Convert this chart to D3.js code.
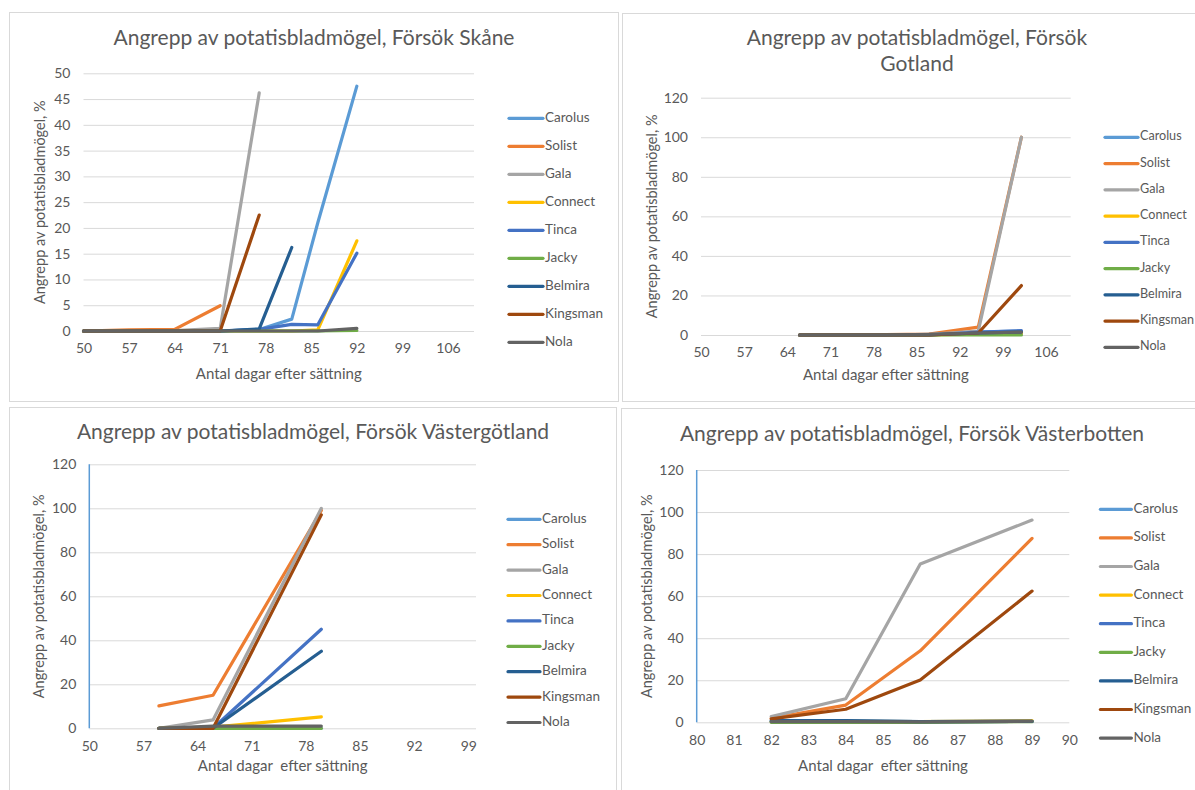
<!DOCTYPE html>
<html>
<head>
<meta charset="utf-8">
<script src="https://cdn.jsdelivr.net/npm/d3@7"></script>
<style>
  body { margin: 0; background: #fff; }
  svg { display: block; font-family: Lato, "Open Sans", sans-serif; }
</style>
</head>
<body>
<svg id="chart" width="1195" height="790"></svg>
<script>
// sorter, same order in every panel
const varieties = ["Carolus", "Solist", "Gala", "Connect", "Tinca", "Jacky", "Belmira", "Kingsman", "Nola"];
const varietyColors = ["#5B9BD5", "#ED7D31", "#A5A5A5", "#FFC000", "#4472C4", "#70AD47", "#255E91", "#9E480E", "#636363"];

// Skåne
const skaneDays = [50, 57, 64, 71, 77, 82, 86, 92];
const skaneValues = [
  [0, 0, 0, 0, 0.3, 2.3, 21, 47.5],
  [0, 0.2, 0.3, 4.9, null, null, null, null],
  [0, 0, 0.1, 0.5, 46.2, null, null, null],
  [0, 0, 0, 0, 0, 0, 0.2, 17.5],
  [0, 0, 0, 0, 0.3, 1.3, 1.2, 15.1],
  [0, 0, 0, 0, 0, 0, 0, 0.1],
  [0, 0, 0, 0, 0.4, 16.2, null, null],
  [0, 0, 0, 0, 22.5, null, null, null],
  [0, 0, 0, 0, 0, 0, 0, 0.5]
];

// Gotland
const gotlandDays = [66, 73, 80, 87, 95, 102];
const gotlandValues = [
  [0, 0, 0, 0, 1.5, 2],
  [0, 0, 0.2, 0.5, 4, 100],
  [0, 0, 0, 0.3, 2, 100],
  [0, 0, 0, 0, 0.5, 0.8],
  [0, 0, 0, 0, 1.5, 2.2],
  [0, 0, 0, 0, 0, 0],
  [0, 0, 0, 0, 1, 1.5],
  [0, 0, 0, 0, 1, 25],
  [0, 0, 0, 0.3, 1, 1.5]
];

// Västergötland
const vgDays = [59, 66, 80];
const vgValues = [
  [0, 0, 0],
  [10.2, 15, 99],
  [0, 3.8, 100],
  [0, 0.5, 5.2],
  [0, 0, 45],
  [0, 0, 0],
  [0, 0, 35],
  [0, 0, 97],
  [0, 1, 1]
];

// Västerbotten
const vbDays = [82, 84, 86, 89];
const vbValues = [
  [0.5, 0.5, 0.3, 0.5],
  [1.9, 8.2, 34, 87.5],
  [2.7, 11.2, 75.3, 96.2],
  [0.3, 0.5, 0.3, 0.8],
  [0.5, 0.5, 0.3, 0.5],
  [0, 0, 0, 0.3],
  [0.8, 0.8, 0.3, 0.5],
  [1.6, 6.2, 20.1, 62.4],
  [0.3, 0.3, 0.2, 0.5]
];

const weekTicks = [50, 57, 64, 71, 78, 85, 92, 99];
const weekTicksLong = [50, 57, 64, 71, 78, 85, 92, 99, 106];
const dayTicks = [80, 81, 82, 83, 84, 85, 86, 87, 88, 89, 90];
const yTicks50 = [0, 5, 10, 15, 20, 25, 30, 35, 40, 45, 50];
const yTicks120 = [0, 20, 40, 60, 80, 100, 120];

const yTitle = "Angrepp av potatisbladmögel, %";

const panels = [
  {
    title: ["Angrepp av potatisbladmögel, Försök Skåne"], titleX: 314, titleY: 40,
    box: [9, 12, 618, 401],
    days: skaneDays, values: skaneValues,
    xDomain: [50, 110], yDomain: [0, 50], xTicks: weekTicksLong, yTicks: yTicks50,
    left: 83.5, right: 474, bottom: 331, top: 73.3,
    xTitle: "Antal dagar efter sättning", xTitleY: 375, yTitleX: 41.7,
    legend: { x: 509, len: 34, y: 118.3, step: 28, size: 13.5 }, axisLine: false
  },
  {
    title: ["Angrepp av potatisbladmögel, Försök", "Gotland"], titleX: 917, titleY: 40,
    box: [622, 13, 1200, 401],
    days: gotlandDays, values: gotlandValues,
    xDomain: [50, 110], yDomain: [0, 120], xTicks: weekTicksLong, yTicks: yTicks120,
    left: 701, right: 1070.7, bottom: 335, top: 97.7,
    xTitle: "Antal dagar efter sättning", xTitleY: 376, yTitleX: 653,
    legend: { x: 1105, len: 33, y: 137.3, step: 26.25, size: 12.6 }, axisLine: false
  },
  {
    title: ["Angrepp av potatisbladmögel, Försök Västergötland"], titleX: 313, titleY: 434,
    box: [9, 407, 616, 800],
    days: vgDays, values: vgValues,
    xDomain: [50, 100], yDomain: [0, 120], xTicks: weekTicks, yTicks: yTicks120,
    left: 89.3, right: 476, bottom: 728.3, top: 464.3,
    xTitle: "Antal dagar  efter sättning", xTitleY: 767.7, yTitleX: 40.7,
    legend: { x: 508, len: 32, y: 519.3, step: 25.4, size: 13.5 }, axisLine: true
  },
  {
    title: ["Angrepp av potatisbladmögel, Försök Västerbotten"], titleX: 912, titleY: 436,
    box: [621, 408, 1200, 800],
    days: vbDays, values: vbValues,
    xDomain: [80, 90], yDomain: [0, 120], xTicks: dayTicks, yTicks: yTicks120,
    left: 696.7, right: 1069.3, bottom: 722.3, top: 470,
    xTitle: "Antal dagar  efter sättning", xTitleY: 767.3, yTitleX: 648.3,
    legend: { x: 1100.4, len: 31, y: 509.3, step: 28.6, size: 13.5 }, axisLine: true
  }
];

const svg = d3.select("#chart");
const textColor = "#595959";

panels.forEach(drawPanel);

function drawPanel(p) {
  const g = svg.append("g");

  g.append("rect")
    .attr("x", p.box[0] + 0.5).attr("y", p.box[1] + 0.5)
    .attr("width", p.box[2] - p.box[0]).attr("height", p.box[3] - p.box[1])
    .attr("fill", "#fff").attr("stroke", "#D9D9D9");

  const x = d3.scaleLinear().domain(p.xDomain).range([p.left, p.right]);
  const y = d3.scaleLinear().domain(p.yDomain).range([p.bottom, p.top]);

  // title
  const t = g.append("text")
    .attr("x", p.titleX).attr("y", p.titleY)
    .attr("text-anchor", "middle").attr("dominant-baseline", "middle")
    .attr("fill", textColor).style("font-size", "21px");
  p.title.forEach((line, i) => {
    t.append("tspan").attr("x", p.titleX).attr("dy", i === 0 ? 0 : 25.7).text(line);
  });

  // y axis + grid
  const yAxis = g.append("g")
    .attr("transform", `translate(${p.left},0)`)
    .call(d3.axisLeft(y).tickValues(p.yTicks).tickSize(-(p.right - p.left)).tickPadding(13));
  yAxis.select(".domain").remove();
  yAxis.selectAll(".tick line").attr("stroke", "#D9D9D9").attr("stroke-width", 1);
  yAxis.selectAll(".tick text").attr("fill", textColor)
    .style("font-size", "14px").style("font-family", "Lato, sans-serif");

  // x axis labels
  const xAxis = g.append("g")
    .attr("transform", `translate(0,${p.bottom})`)
    .call(d3.axisBottom(x).tickValues(p.xTicks).tickSize(0).tickPadding(12.5));
  xAxis.select(".domain").remove();
  xAxis.selectAll(".tick text").attr("fill", textColor)
    .style("font-size", "14px").style("font-family", "Lato, sans-serif");

  if (p.axisLine) {
    g.append("line")
      .attr("x1", x(p.xDomain[0])).attr("x2", x(p.xDomain[0]))
      .attr("y1", y(p.yDomain[0])).attr("y2", y(p.yDomain[1]))
      .attr("stroke", "#5B9BD5").attr("stroke-width", 1.5);
  }

  // axis titles
  g.append("text")
    .attr("x", (p.left + p.right) / 2).attr("y", p.xTitleY)
    .attr("text-anchor", "middle").attr("dominant-baseline", "middle")
    .attr("fill", textColor).style("font-size", "15px")
    .style("white-space", "pre").attr("xml:space", "preserve")
    .text(p.xTitle);

  g.append("text")
    .attr("transform", `translate(${p.yTitleX},${(p.top + p.bottom) / 2}) rotate(-90)`)
    .attr("text-anchor", "middle").attr("dominant-baseline", "middle")
    .attr("fill", textColor).style("font-size", "14.5px")
    .text(yTitle);

  // series
  const line = d3.line()
    .defined(v => v != null)
    .x((v, i) => x(p.days[i]))
    .y(v => y(v));

  g.selectAll(".series")
    .data(p.values)
    .join("path")
    .attr("class", "series")
    .attr("d", line)
    .attr("fill", "none")
    .attr("stroke", (d, i) => varietyColors[i])
    .attr("stroke-width", 3.2)
    .attr("stroke-linejoin", "round")
    .attr("stroke-linecap", "round");

  // legend
  const lg = g.selectAll(".legend")
    .data(varieties)
    .join("g")
    .attr("class", "legend")
    .attr("transform", (d, i) => `translate(${p.legend.x},${p.legend.y + i * p.legend.step})`);

  lg.append("line")
    .attr("x1", 0).attr("x2", p.legend.len)
    .attr("stroke", (d, i) => varietyColors[i])
    .attr("stroke-width", 3.2).attr("stroke-linecap", "round");

  lg.append("text")
    .attr("x", p.legend.len + 2)
    .attr("dominant-baseline", "middle")
    .attr("fill", textColor).style("font-size", p.legend.size + "px")
    .text(d => d);
}
</script>
</body>
</html>
